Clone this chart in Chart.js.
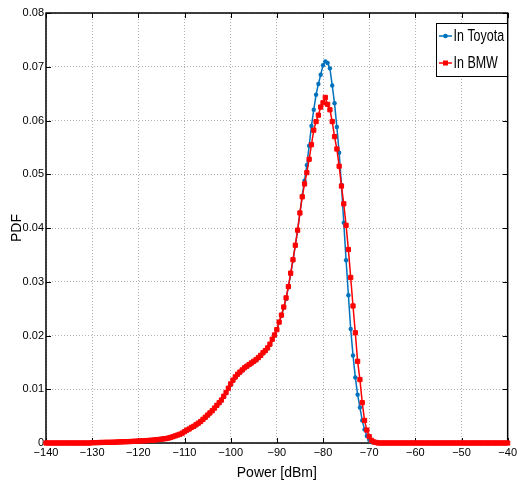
<!DOCTYPE html>
<html><head><meta charset="utf-8">
<script src="https://cdn.jsdelivr.net/npm/chart.js@4/dist/chart.umd.min.js"></script>
<style>html,body{margin:0;padding:0;background:#fff}#wrap{width:520px;height:486px}</style>
</head><body><div id="wrap"><canvas id="c" width="520" height="486"></canvas></div>
<script>
// Power axis (dBm), 0.5 dB bins
const powerDbm = [
-140,-139.5,-139,-138.5,-138,-137.5,-137,-136.5,-136,-135.5,-135,-134.5,-134,-133.5,-133,-132.5,-132,-131.5,-131,-130.5,
-130,-129.5,-129,-128.5,-128,-127.5,-127,-126.5,-126,-125.5,-125,-124.5,-124,-123.5,-123,-122.5,-122,-121.5,-121,-120.5,
-120,-119.5,-119,-118.5,-118,-117.5,-117,-116.5,-116,-115.5,-115,-114.5,-114,-113.5,-113,-112.5,-112,-111.5,-111,-110.5,
-110,-109.5,-109,-108.5,-108,-107.5,-107,-106.5,-106,-105.5,-105,-104.5,-104,-103.5,-103,-102.5,-102,-101.5,-101,-100.5,
-100,-99.5,-99,-98.5,-98,-97.5,-97,-96.5,-96,-95.5,-95,-94.5,-94,-93.5,-93,-92.5,-92,-91.5,-91,-90.5,
-90,-89.5,-89,-88.5,-88,-87.5,-87,-86.5,-86,-85.5,-85,-84.5,-84,-83.5,-83,-82.5,-82,-81.5,-81,-80.5,
-80,-79.5,-79,-78.5,-78,-77.5,-77,-76.5,-76,-75.5,-75,-74.5,-74,-73.5,-73,-72.5,-72,-71.5,-71,-70.5,
-70,-69.5,-69,-68.5,-68,-67.5,-67,-66.5,-66,-65.5,-65,-64.5,-64,-63.5,-63,-62.5,-62,-61.5,-61,-60.5,
-60,-59.5,-59,-58.5,-58,-57.5,-57,-56.5,-56,-55.5,-55,-54.5,-54,-53.5,-53,-52.5,-52,-51.5,-51,-50.5,
-50,-49.5,-49,-48.5,-48,-47.5,-47,-46.5,-46,-45.5,-45,-44.5,-44,-43.5,-43,-42.5,-42,-41.5,-41,-40.5,
-40];

const pdfToyota = [
0,0,0,0,0,0,0,0,0,0,0,0,0,0,0,0,0,0,0,0,
0.00005,0.00005,0.00006,0.00008,0.0001,0.0001,0.00011,0.00012,0.00012,0.00014,0.00015,0.00018,0.0002,0.0002,0.00022,0.00024,0.00025,0.00028,0.0003,0.00032,
0.00035,0.00038,0.0004,0.00042,0.00045,0.00048,0.0005,0.00055,0.0006,0.00065,0.0007,0.00075,0.0008,0.0009,0.001,0.00115,0.0013,0.00145,0.0016,0.0018,
0.0021,0.0023,0.0026,0.0028,0.003,0.0033,0.0036,0.0039,0.0043,0.0047,0.0051,0.0055,0.006,0.0064,0.0069,0.0074,0.0079,0.0086,0.0093,0.0101,
0.0108,0.0116,0.0122,0.0127,0.0131,0.0135,0.0139,0.0142,0.0145,0.0148,0.0151,0.0154,0.0158,0.0162,0.0167,0.0171,0.0176,0.0183,0.0192,0.0200,
0.0210,0.0224,0.0237,0.0252,0.0268,0.0290,0.0315,0.0340,0.0367,0.0395,0.0428,0.0460,0.0488,0.0517,0.0553,0.0590,0.0620,0.0648,0.0668,0.0685,
0.0703,0.0710,0.0707,0.0697,0.0665,0.0632,0.0588,0.0540,0.0480,0.0410,0.0340,0.0275,0.0212,0.0163,0.0122,0.0090,0.0066,0.0042,0.0025,0.0013,
0.0006,0.0002,0.0001,0,0,0,0,0,0,0,0,0,0,0,0,0,0,0,0,0,
0,0,0,0,0,0,0,0,0,0,0,0,0,0,0,0,0,0,0,0,
0,0,0,0,0,0,0,0,0,0,0,0,0,0,0,0,0,0,0,0,
0];

const pdfBmw = [
0,0,0,0,0,0,0,0,0,0,0,0,0,0,0,0,0,0,0,0,
0.00006,0.00006,0.00007,0.00009,0.0001,0.00011,0.00012,0.00013,0.00013,0.00015,0.00016,0.00019,0.0002,0.00021,0.00023,0.00025,0.00026,0.00029,0.00031,0.00033,
0.00036,0.00039,0.00041,0.00043,0.00046,0.00049,0.00052,0.00056,0.00062,0.00066,0.00072,0.00077,0.00083,0.00092,0.00103,0.00118,0.00133,0.00148,0.00163,0.00184,
0.0021,0.0024,0.0026,0.0029,0.0031,0.0034,0.0037,0.0040,0.0044,0.0048,0.0052,0.0056,0.0060,0.0065,0.0070,0.0075,0.0080,0.0087,0.0094,0.0102,
0.0110,0.0117,0.0123,0.0128,0.0132,0.0136,0.0140,0.0143,0.0146,0.0149,0.0152,0.0155,0.0159,0.0163,0.0168,0.0172,0.0177,0.0184,0.0193,0.0201,
0.0211,0.0225,0.0238,0.0253,0.0270,0.0291,0.0316,0.0341,0.0368,0.0396,0.0428,0.0458,0.0482,0.0503,0.0528,0.0555,0.0582,0.0598,0.0610,0.0625,
0.0633,0.0643,0.0630,0.0620,0.0598,0.0570,0.0547,0.0515,0.0478,0.0445,0.0405,0.0360,0.0308,0.0255,0.0205,0.0152,0.0118,0.0075,0.0042,0.0024,
0.0012,0.0005,0.0002,0.0001,0,0,0,0,0,0,0,0,0,0,0,0,0,0,0,0,
0,0,0,0,0,0,0,0,0,0,0,0,0,0,0,0,0,0,0,0,
0,0,0,0,0,0,0,0,0,0,0,0,0,0,0,0,0,0,0,0,
0];

const xTickValues = [-140,-130,-120,-110,-100,-90,-80,-70,-60,-50,-40];
const yTickValues = [0,0.01,0.02,0.03,0.04,0.05,0.06,0.07,0.08];
const seriesNames = ['In Toyota','In BMW'];
const seriesColors = ['#0072BD','#FF0000'];

const FONT = "'Liberation Sans', Arial, sans-serif";

const framePlugin = {
  id: 'frame',
  beforeDatasetsDraw(chart) {
    const {ctx, chartArea: a, scales: {x, y}} = chart;
    ctx.save();
    ctx.strokeStyle = '#000';
    ctx.lineWidth = 1;
    ctx.beginPath();
    xTickValues.forEach(v => {
      const px = Math.round(x.getPixelForValue(v)) + 0.5;
      ctx.moveTo(px, a.bottom); ctx.lineTo(px, a.bottom - 5);
      ctx.moveTo(px, a.top); ctx.lineTo(px, a.top + 5);
    });
    yTickValues.forEach(v => {
      const py = Math.round(y.getPixelForValue(v)) + 0.5;
      ctx.moveTo(a.left, py); ctx.lineTo(a.left + 5, py);
      ctx.moveTo(a.right, py); ctx.lineTo(a.right - 5, py);
    });
    ctx.stroke();
    ctx.lineWidth = 1.5;
    ctx.strokeRect(a.left, a.top, a.right - a.left, a.bottom - a.top);
    ctx.restore();
  },
  afterDatasetsDraw(chart) {
    const {ctx} = chart;
    ctx.save();
    const bx = 436, by = 23.5, bw = 71, bh = 53;
    ctx.fillStyle = '#fff';
    ctx.fillRect(bx, by, bw, bh);
    ctx.strokeStyle = '#000';
    ctx.lineWidth = 1;
    ctx.strokeRect(bx + 0.5, by, bw, bh);
    ctx.textBaseline = 'middle';
    ctx.textAlign = 'left';
    const rows = [36, 63];
    seriesNames.forEach((name, i) => {
      const yy = rows[i];
      ctx.strokeStyle = seriesColors[i];
      ctx.fillStyle = seriesColors[i];
      ctx.lineWidth = 1.5;
      ctx.beginPath(); ctx.moveTo(439, yy); ctx.lineTo(452, yy); ctx.stroke();
      ctx.beginPath();
      if (i === 0) { ctx.arc(445.5, yy, 2.3, 0, Math.PI * 2); ctx.fill(); }
      else { ctx.fillRect(443, yy - 2.5, 5, 5); }
      ctx.save();
      ctx.translate(453.5, yy + 1);
      ctx.scale(0.78, 1);
      ctx.font = '16px ' + FONT;
      ctx.fillStyle = '#000';
      ctx.fillText(name, 0, 0);
      ctx.restore();
    });
    ctx.restore();
  }
};

const mk = (vals) => powerDbm.map((p, i) => ({x: p, y: vals[i]}));

new Chart(document.getElementById('c'), {
  type: 'line',
  data: {
    datasets: [
      {label: seriesNames[0], data: mk(pdfToyota), borderColor: seriesColors[0], backgroundColor: seriesColors[0],
       borderWidth: 1.5, pointStyle: 'circle', pointRadius: 2.2, pointBorderWidth: 0, order: 2, clip: false},
      {label: seriesNames[1], data: mk(pdfBmw), borderColor: seriesColors[1], backgroundColor: seriesColors[1],
       borderWidth: 1.5, pointStyle: 'rect', pointRadius: 3, pointBorderWidth: 1, order: 1, clip: false}
    ]
  },
  options: {
    responsive: false,
    animation: false,
    events: [],
    layout: {padding: {left: 0, right: 7, top: 13, bottom: 0}},
    plugins: {legend: {display: false}, tooltip: {enabled: false}},
    scales: {
      x: {
        type: 'linear', min: -140, max: -40,
        afterFit: s => { s.height = 43; },
        afterBuildTicks: s => { s.ticks = xTickValues.map(v => ({value: v})); },
        ticks: {color: '#000', padding: 3, maxRotation: 0, autoSkip: false, font: {family: FONT, size: 11},
                callback: v => String(v).replace('-', '\u2212')},
        grid: {color: '#b0b0b0', lineWidth: 1, drawTicks: false},
        border: {display: false, dash: [1, 2]},
        title: {display: true, text: 'Power [dBm]', color: '#000', font: {family: FONT, size: 14}, padding: {top: 0, bottom: 4}}
      },
      y: {
        type: 'linear', min: 0, max: 0.08,
        afterFit: s => { s.width = 46; },
        afterBuildTicks: s => { s.ticks = yTickValues.map(v => ({value: v})); },
        ticks: {color: '#000', padding: 2, autoSkip: false, font: {family: FONT, size: 11},
                callback: v => v === 0 ? '0' : v.toFixed(2)},
        grid: {color: '#b0b0b0', lineWidth: 1, drawTicks: false},
        border: {display: false, dash: [1, 2]},
        title: {display: true, text: 'PDF', color: '#000', font: {family: FONT, size: 14}, padding: {top: 9, bottom: 0}}
      }
    }
  },
  plugins: [framePlugin]
});
</script>
</body></html>
